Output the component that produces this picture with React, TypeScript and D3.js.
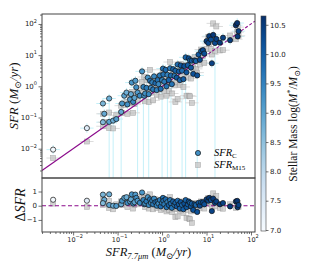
import { useEffect, useRef } from "react";
import * as d3 from "d3";

// log10 SFR_7.7um per galaxy (x axis)
const logSfr77 = [
  -2.45, -1.69,
  -1.33, -1.3, -1.33, -1.19, -1.19, -1.1, -1.03, -0.92, -0.9, -0.85, -0.8, -0.78, -0.72, -0.7, -0.68, -0.65, -0.62, -0.6,
  -0.58, -0.55, -0.5, -0.45, -0.42, -0.4, -0.38, -0.35, -0.32, -0.3,
  -0.27, -0.25, -0.22, -0.2, -0.18, -0.15, -0.12, -0.1, -0.08, -0.05,
  -0.03, 0.0, 0.02, 0.03, 0.05, 0.08, 0.1, 0.12, 0.15, 0.18,
  0.2, 0.22, 0.25, 0.28,
  0.3, 0.33, 0.35, 0.38, 0.4, 0.42, 0.45, 0.48, 0.5, 0.53, 0.55, 0.58, 0.6, 0.63, 0.65, 0.67, 0.7, 0.73, 0.76, 0.79, 0.82, 0.85, 0.88,
  0.92, 0.95, 1.0, 1.04, 1.06, 1.1, 1.12, 1.15, 1.19, 1.22, 1.3, 1.37,
  1.53, 1.66, 1.69, 1.7, 1.72,
];

// residual log(SFR_C / SFR_7.7)
const residC = [
  0.42, 0.35,
  0.78, 0.42, 0.18, 0.8, 0.05, 0.0, -0.02, 0.1, 0.35, 0.55, 0.6, 0.2, 0.3, 0.45, 0.8, 0.15, 0.25, 0.78,
  0.55, 0.35, 0.2, 0.93, 0.4, 0.1, 0.15, 0.3, 0.6, 0.05,
  0.45, 0.2, 0.35, 0.1, 0.5, 0.25, 0.0, 0.3, 0.15, 0.4,
  -0.05, 0.2, 0.55, 0.35, 0.1, 0.45, -0.1, 0.25, 0.05, 0.4,
  0.15, -0.15, 0.3, 0.05,
  0.2, -0.05, 0.35, 0.1, -0.2, 0.25, 0.05, -0.25, 0.15, 0.4, -0.1, 0.1, 0.3, 0.2, -0.05, 0.15, -0.3, 0.1, 0.05, -0.44, 0.2, 0.0, 0.25,
  0.24, 0.1, 0.45, 0.35, 0.55, 0.4, -0.38, 0.5, 0.2, 0.3, 0.1, 0.19,
  -0.05, 0.3, 0.34, -0.1, 0.05,
];

// residual log(SFR_M15 / SFR_7.7)
const residM15 = [
  0.15, -0.08,
  0.45, 0.15, 0.05, 0.35, -0.15, -0.25, 0.1, 0.3, 0.05, 0.25, 0.3, -0.1, 0.4, 0.15, 0.5, -0.2, 0.05, 0.35,
  0.3, 0.1, 0.45, 0.6, 0.2, 0.7, -0.1, 0.55, 0.25, -0.2,
  0.8, 0.05, 0.3, -0.25, 0.2, 0.45, -0.15, 0.1, 0.35, -0.05,
  -0.3, 0.15, 0.4, 0.5, -0.2, 0.25, -0.4, 0.05, -0.3, 0.6,
  -0.1, -0.45, 0.2, -0.25,
  -0.8, -0.2, -0.75, 0.1, -0.35, 0.3, -0.15, -0.5, 0.05, 0.15, -0.85, -0.3, -0.9, -0.95, -0.4, -1.2, -0.1, 0.2, -0.2, -0.35, 0.1, -0.15, 0.3,
  0.05, -0.2, 0.2, 0.55, 0.3, 0.1, -0.1, 0.87, -0.05, 0.7, -0.15, -0.21,
  0.1, -0.15, 0.05, 0.2, -0.1,
];

// log stellar mass (colour)
const logMstar = [
  7.05, 7.4,
  8.7, 8.9, 8.6, 8.8, 9.0, 8.8, 9.1, 8.9, 9.2, 9.0, 8.8, 9.3, 9.1, 8.9, 9.2, 9.4, 9.0, 9.1,
  9.3, 9.1, 9.4, 9.2, 9.5, 9.2, 9.3, 9.6, 9.2, 9.4,
  9.7, 9.3, 9.5, 9.6, 9.4, 9.8, 9.5, 9.7, 9.4, 9.6,
  9.8, 9.5, 9.7, 9.7, 9.6, 9.8, 9.7, 9.5, 9.9, 9.6,
  9.8, 9.7, 9.9, 9.6,
  9.9, 10.1, 9.8, 10.0, 9.9, 10.1, 9.8, 10.0, 10.2, 9.9, 10.1, 10.0, 10.2, 9.9, 10.1, 10.0, 10.2, 10.1, 9.9, 10.2, 10.1, 10.3, 10.0,
  10.3, 10.2, 10.4, 10.3, 10.5, 10.2, 10.4, 10.5, 10.3, 10.4, 10.5, 10.4,
  10.5, 10.6, 10.6, 10.5, 10.4,
];

// 1 = lower error bar of SFR_C unbounded (runs to the bottom of the panel)
const openLowErr = [
  0, 0,
  0, 0, 0, 1, 0, 1, 0, 1, 0, 0, 0, 0, 0, 0, 0, 0, 0, 0,
  0, 1, 0, 0, 1, 0, 0, 0, 0, 1,
  0, 0, 0, 0, 0, 0, 0, 0, 0, 0,
  0, 1, 0, 0, 0, 0, 0, 1, 0, 0,
  1, 0, 0, 0,
  0, 0, 0, 0, 0, 0, 1, 0, 0, 1, 0, 0, 0, 0, 0, 0, 0, 0, 0, 1, 0, 0, 0,
  0, 0, 0, 0, 0, 0, 0, 0, 1, 0, 0, 0,
  0, 0, 0, 0, 0,
];

const xDecades = [-2, -1, 0, 1, 2];
const yDecades = [-2, -1, 0, 1, 2];
const resTicks = [-1, 0, 1];
const cbarTicks = [7.0, 7.5, 8.0, 8.5, 9.0, 9.5, 10.0, 10.5];

const SERIF = "Liberation Serif, DejaVu Serif, serif";
const SANS = "DejaVu Sans, sans-serif";

function minorTicks(lo, hi) {
  const out = [];
  for (let k = Math.floor(lo); k <= Math.ceil(hi); k++) {
    for (let m = 2; m <= 9; m++) {
      const v = Math.log10(m) + k;
      if (v >= lo && v <= hi) out.push(10 ** v);
    }
  }
  return out;
}

function powLabel(sel, exp) {
  sel.append("tspan").text("10");
  sel
    .append("tspan")
    .attr("dy", -3.5)
    .attr("font-size", 5)
    .text(exp < 0 ? "\u2212" + -exp : String(exp));
}

function renderChart(el) {
  d3.select(el).selectAll("*").remove();
  const svg = d3
    .select(el)
    .append("svg")
    .attr("width", 315)
    .attr("height", 270)
    .style("position", "absolute")
    .style("left", "0px")
    .style("top", "0px")
    .style("background", "#fff");

  const L = 42, R = 255, T = 14, MID = 178, B = 232;
  const xLo = -2.7, xHi = 2.09, yLo = -2.94, yHi = 2.32;

  const x = d3.scaleLog().domain([10 ** xLo, 10 ** xHi]).range([L, R]);
  const y = d3.scaleLog().domain([10 ** yLo, 10 ** yHi]).range([MID, T]);
  const yr = d3.scaleLinear().domain([-1.85, 1.95]).range([B, MID]);
  const cbDom = [6.983, 10.65];
  const color = d3.scaleSequential(d3.interpolateBlues).domain(cbDom);

  const pts = logSfr77.map((lx, i) => ({
    x: 10 ** lx,
    yc: 10 ** (lx + residC[i]),
    ym: 10 ** (lx + residM15[i]),
    dc: residC[i],
    dm: residM15[i],
    m: logMstar[i],
    open: openLowErr[i] === 1,
  }));

  const defs = svg.append("defs");
  defs.append("clipPath").attr("id", "clipMain").append("rect")
    .attr("x", L).attr("y", T).attr("width", R - L).attr("height", MID - T);
  defs.append("clipPath").attr("id", "clipRes").append("rect")
    .attr("x", L).attr("y", MID).attr("width", R - L).attr("height", B - MID);

  const errColor = "#c4f0f9";
  const dx = 10 ** 0.15;

  // ---- main panel
  const gm = svg.append("g").attr("clip-path", "url(#clipMain)");
  gm.selectAll(".xerr").data(pts).join("line").attr("class", "xerr")
    .attr("x1", (d) => x(d.x / dx)).attr("x2", (d) => x(d.x * dx))
    .attr("y1", (d) => y(d.yc)).attr("y2", (d) => y(d.yc))
    .attr("stroke", errColor).attr("stroke-width", 1);
  gm.selectAll(".yerr").data(pts).join("line").attr("class", "yerr")
    .attr("x1", (d) => x(d.x)).attr("x2", (d) => x(d.x))
    .attr("y1", (d) => y(d.yc * dx))
    .attr("y2", (d) => (d.open ? MID : y(d.yc / dx)))
    .attr("stroke", errColor).attr("stroke-width", 1);
  gm.selectAll(".merr").data(pts).join("line").attr("class", "merr")
    .attr("x1", (d) => x(d.x / dx)).attr("x2", (d) => x(d.x * dx))
    .attr("y1", (d) => y(d.ym)).attr("y2", (d) => y(d.ym))
    .attr("stroke", "#dcdcdc").attr("stroke-width", 1);

  gm.selectAll(".sq").data(pts).join("rect").attr("class", "sq")
    .attr("x", (d) => x(d.x) - 2.5).attr("y", (d) => y(d.ym) - 2.5)
    .attr("width", 5).attr("height", 5)
    .attr("fill", "#c4c4c4").attr("stroke", "#949494").attr("stroke-width", 0.6)
    .attr("opacity", 0.75);

  const line = d3.line().x((d) => x(d)).y((d) => y(d));
  gm.append("path").attr("d", line([10 ** xLo, 10 ** 0.95]))
    .attr("stroke", "#8b0a8b").attr("stroke-width", 1.1).attr("fill", "none");
  gm.append("path").attr("d", line([10 ** 0.95, 10 ** xHi]))
    .attr("stroke", "#8b0a8b").attr("stroke-width", 1.1).attr("fill", "none")
    .attr("stroke-dasharray", "3,2");

  gm.selectAll(".ci").data(pts).join("circle").attr("class", "ci")
    .attr("cx", (d) => x(d.x)).attr("cy", (d) => y(d.yc)).attr("r", 2.6)
    .attr("fill", (d) => color(d.m)).attr("stroke", "#111").attr("stroke-width", 0.7);

  // ---- residual panel
  const gr = svg.append("g").attr("clip-path", "url(#clipRes)");
  gr.selectAll(".sq").data(pts).join("rect").attr("class", "sq")
    .attr("x", (d) => x(d.x) - 2.5).attr("y", (d) => yr(d.dm) - 2.5)
    .attr("width", 5).attr("height", 5)
    .attr("fill", "#c4c4c4").attr("stroke", "#949494").attr("stroke-width", 0.6)
    .attr("opacity", 0.75);
  gr.append("line").attr("x1", L).attr("x2", R).attr("y1", yr(0)).attr("y2", yr(0))
    .attr("stroke", "#8b0a8b").attr("stroke-width", 1.1).attr("stroke-dasharray", "4,2.5");
  gr.selectAll(".ci").data(pts).join("circle").attr("class", "ci")
    .attr("cx", (d) => x(d.x)).attr("cy", (d) => yr(d.dc)).attr("r", 2.6)
    .attr("fill", (d) => color(d.m)).attr("stroke", "#111").attr("stroke-width", 0.7);

  // ---- axes
  const axisStyle = (g) => {
    g.select(".domain").remove();
    g.selectAll("line").attr("stroke", "#333").attr("stroke-width", 0.7);
    g.selectAll("text").remove();
  };
  svg.append("g").attr("transform", `translate(${L},0)`)
    .call(d3.axisLeft(y).tickValues(yDecades.map((k) => 10 ** k)).tickSize(3.5)).call(axisStyle);
  svg.append("g").attr("transform", `translate(${L},0)`)
    .call(d3.axisLeft(y).tickValues(minorTicks(yLo, yHi)).tickSize(2)).call(axisStyle);
  svg.append("g").attr("transform", `translate(0,${B})`)
    .call(d3.axisBottom(x).tickValues(xDecades.map((k) => 10 ** k)).tickSize(3.5)).call(axisStyle);
  svg.append("g").attr("transform", `translate(0,${B})`)
    .call(d3.axisBottom(x).tickValues(minorTicks(xLo, xHi)).tickSize(2)).call(axisStyle);
  svg.append("g").attr("transform", `translate(${L},0)`)
    .call(d3.axisLeft(yr).tickValues(resTicks).tickSize(3.5)).call(axisStyle);

  svg.selectAll(".ylab").data(yDecades).join("text").attr("class", "ylab")
    .attr("x", L - 5).attr("y", (d) => y(10 ** d) + 2.5)
    .attr("text-anchor", "end").attr("font-size", 7).attr("font-family", SANS).attr("fill", "#222")
    .each(function (d) { powLabel(d3.select(this), d); });
  svg.selectAll(".xlab").data(xDecades).join("text").attr("class", "xlab")
    .attr("x", (d) => x(10 ** d) + 2).attr("y", B + 9.5)
    .attr("text-anchor", "middle").attr("font-size", 6.5).attr("font-family", SANS).attr("fill", "#222")
    .each(function (d) { powLabel(d3.select(this), d); });
  svg.selectAll(".rlab").data(resTicks).join("text").attr("class", "rlab")
    .attr("x", L - 5).attr("y", (d) => yr(d) + 2.5)
    .attr("text-anchor", "end").attr("font-size", 7).attr("font-family", SANS).attr("fill", "#222")
    .text((d) => (d < 0 ? "\u2212" + -d : String(d)));

  // spines
  svg.append("rect").attr("x", L).attr("y", T).attr("width", R - L).attr("height", MID - T)
    .attr("fill", "none").attr("stroke", "#444").attr("stroke-width", 1);
  svg.append("rect").attr("x", L).attr("y", MID).attr("width", R - L).attr("height", B - MID)
    .attr("fill", "none").attr("stroke", "#444").attr("stroke-width", 1);

  // axis titles
  const yl = svg.append("text").attr("transform", `translate(18,${(T + MID) / 2}) rotate(-90)`)
    .attr("text-anchor", "middle").attr("font-family", SERIF).attr("font-size", 13).attr("fill", "#111");
  yl.append("tspan").attr("font-style", "italic").text("SFR");
  yl.append("tspan").text(" (");
  yl.append("tspan").attr("font-style", "italic").text("M");
  yl.append("tspan").attr("font-size", 9).attr("dy", 2.5).text("\u2299");
  yl.append("tspan").attr("dy", -2.5).attr("font-style", "italic").text("/yr");
  yl.append("tspan").text(")");

  const rl = svg.append("text").attr("transform", `translate(25,${(MID + B) / 2}) rotate(-90)`)
    .attr("text-anchor", "middle").attr("font-family", SERIF).attr("font-size", 14).attr("fill", "#111");
  rl.append("tspan").text("\u0394");
  rl.append("tspan").attr("font-style", "italic").text("SFR");

  const xl = svg.append("text").attr("x", (L + R) / 2).attr("y", 256)
    .attr("text-anchor", "middle").attr("font-family", SERIF).attr("font-size", 12.5).attr("fill", "#111");
  xl.append("tspan").attr("font-style", "italic").text("SFR");
  xl.append("tspan").attr("font-style", "italic").attr("font-size", 8.5).attr("dy", 3).text("7.7\u03bcm");
  xl.append("tspan").attr("dy", -3).text(" (");
  xl.append("tspan").attr("font-style", "italic").text("M");
  xl.append("tspan").attr("font-size", 8.5).attr("dy", 2.5).text("\u2299");
  xl.append("tspan").attr("dy", -2.5).attr("font-style", "italic").text("/yr");
  xl.append("tspan").text(")");

  // legend
  svg.append("circle").attr("cx", 198).attr("cy", 153).attr("r", 2.6)
    .attr("fill", color(9.3)).attr("stroke", "#111").attr("stroke-width", 0.7);
  svg.append("rect").attr("x", 195.5).attr("y", 162.5).attr("width", 5).attr("height", 5)
    .attr("fill", "#c4c4c4").attr("stroke", "#949494").attr("stroke-width", 0.6).attr("opacity", 0.75);
  const lg1 = svg.append("text").attr("x", 214).attr("y", 156).attr("font-family", SERIF).attr("font-size", 10.5);
  lg1.append("tspan").attr("font-style", "italic").text("SFR");
  lg1.append("tspan").attr("font-size", 7).attr("dy", 2).text("C");
  const lg2 = svg.append("text").attr("x", 214).attr("y", 168).attr("font-family", SERIF).attr("font-size", 10.5);
  lg2.append("tspan").attr("font-style", "italic").text("SFR");
  lg2.append("tspan").attr("font-size", 7).attr("dy", 2).text("M15");

  // colorbar
  const CBL = 261, CBW = 5, CBT = 16, CBB = 231;
  const cb = d3.scaleLinear().domain(cbDom).range([CBB, CBT]);
  const grad = defs.append("linearGradient").attr("id", "cbGrad")
    .attr("x1", 0).attr("y1", 1).attr("x2", 0).attr("y2", 0);
  d3.range(0, 1.0001, 0.05).forEach((t) => {
    grad.append("stop").attr("offset", t).attr("stop-color", color(cbDom[0] + t * (cbDom[1] - cbDom[0])));
  });
  svg.append("rect").attr("x", CBL).attr("y", CBT).attr("width", CBW).attr("height", CBB - CBT)
    .attr("fill", "url(#cbGrad)").attr("stroke", "#444").attr("stroke-width", 0.6);
  const cba = svg.append("g").attr("transform", `translate(${CBL + CBW},0)`)
    .call(d3.axisRight(cb).tickValues(cbarTicks).tickSize(2.5));
  cba.select(".domain").remove();
  cba.selectAll("line").attr("stroke", "#333").attr("stroke-width", 0.7);
  cba.selectAll("text").attr("font-size", 7).attr("font-family", SANS).attr("fill", "#222")
    .attr("x", 4).text((d) => d3.format(".1f")(d));

  const cl = svg.append("text").attr("transform", `translate(297,124) rotate(-90)`)
    .attr("text-anchor", "middle").attr("font-family", SERIF).attr("font-size", 11.5).attr("fill", "#111");
  cl.append("tspan").text("Stellar Mass  log(");
  cl.append("tspan").attr("font-style", "italic").text("M");
  cl.append("tspan").attr("font-size", 8).attr("dy", -4).text("*");
  cl.append("tspan").attr("dy", 4).text("/");
  cl.append("tspan").attr("font-style", "italic").text("M");
  cl.append("tspan").attr("font-size", 8).attr("dy", 2.5).text("\u2299");
  cl.append("tspan").attr("dy", -2.5).text(")");
}

export default function App() {
  const ref = useRef(null);
  useEffect(() => {
    if (ref?.current) renderChart(ref.current);
  }, [ref]);
  return <div ref={ref}></div>;
}
